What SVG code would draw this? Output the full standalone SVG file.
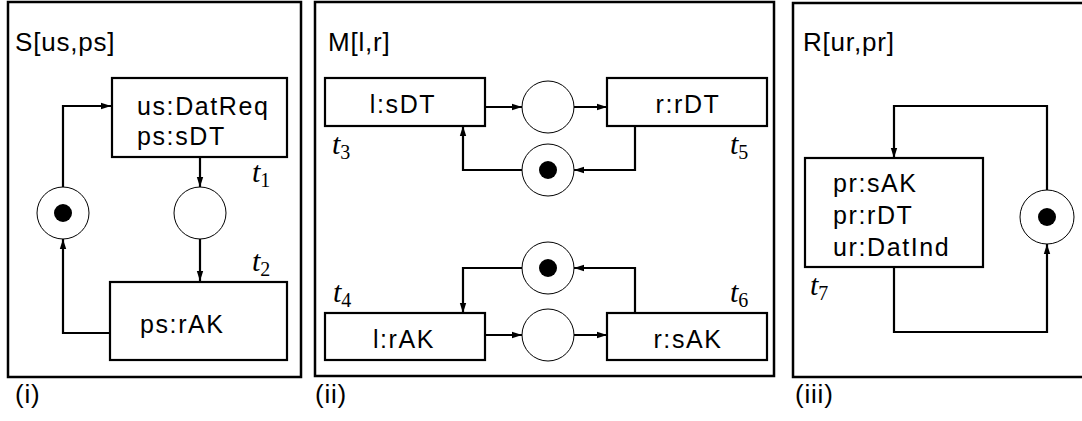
<svg xmlns="http://www.w3.org/2000/svg" width="1082" height="421" viewBox="0 0 1082 421">
<style>
.frame{fill:none;stroke:#000;stroke-width:2.5}
.box{fill:#fff;stroke:#000;stroke-width:2.2}
.place{fill:#fff;stroke:#000;stroke-width:1}
.tok{fill:#000}
.lbl{font-family:"Liberation Sans",Arial,sans-serif;font-size:25px;letter-spacing:1.6px;fill:#000}
.title{font-family:"Liberation Sans",Arial,sans-serif;font-size:26px;letter-spacing:0.8px;fill:#000}
.t{font-family:"Liberation Serif","Times New Roman",serif;font-size:30px;font-style:italic;fill:#000}
.sub{font-style:normal;font-size:20px}
.arc{fill:none;stroke:#000;stroke-width:2.2;marker-end:url(#ah)}
</style>
<defs>
<marker id="ah" markerUnits="userSpaceOnUse" markerWidth="12" markerHeight="8" refX="10" refY="4" orient="auto">
<path d="M0,0.8 L10,4 L0,7.2 Z" fill="#000"/>
</marker>
</defs>

<g id="panel-i">
<rect class="frame" x="8" y="2" width="293" height="375"/>
<text class="title" x="15" y="51">S[us,ps]</text>
<text class="title" x="15" y="403">(i)</text>
</g>
<g id="t1node">
<rect class="box" x="112" y="78" width="175" height="79"/>
<text class="lbl" x="137" y="115">us:DatReq</text>
<text class="lbl" x="137" y="145">ps:sDT</text>
<text class="t" x="252" y="182">t<tspan class="sub" dy="5">1</tspan></text>
</g>
<g id="t2node">
<rect class="box" x="110" y="282" width="177" height="78"/>
<text class="lbl" x="140" y="333">ps:rAK</text>
<text class="t" x="252" y="271">t<tspan class="sub" dy="5">2</tspan></text>
</g>
<g id="p1"><circle class="place" cx="63" cy="213" r="26"/><circle class="tok" cx="63" cy="213" r="9"/></g>
<g id="p2"><circle class="place" cx="200" cy="213" r="26"/></g>

<g id="panel-ii">
<rect class="frame" x="315" y="2" width="459" height="374"/>
<text class="title" x="328" y="51">M[l,r]</text>
<text class="title" x="315" y="403">(ii)</text>
</g>
<g id="t3node">
<rect class="box" x="325" y="78" width="160" height="48"/>
<text class="lbl" x="403" y="113" text-anchor="middle">l:sDT</text>
<text class="t" x="332" y="154">t<tspan class="sub" dy="5">3</tspan></text>
</g>
<g id="t5node">
<rect class="box" x="607" y="78" width="160" height="48"/>
<text class="lbl" x="688" y="113" text-anchor="middle">r:rDT</text>
<text class="t" x="730" y="154">t<tspan class="sub" dy="5">5</tspan></text>
</g>
<g id="t4node">
<rect class="box" x="325" y="313" width="160" height="47"/>
<text class="lbl" x="404" y="348" text-anchor="middle">l:rAK</text>
<text class="t" x="333" y="302">t<tspan class="sub" dy="5">4</tspan></text>
</g>
<g id="t6node">
<rect class="box" x="607" y="313" width="160" height="47"/>
<text class="lbl" x="688" y="348" text-anchor="middle">r:sAK</text>
<text class="t" x="730" y="302">t<tspan class="sub" dy="5">6</tspan></text>
</g>
<g id="p3"><circle class="place" cx="548" cy="107" r="26"/></g>
<g id="p4"><circle class="place" cx="548" cy="170" r="26"/><circle class="tok" cx="548" cy="170" r="9"/></g>
<g id="p5"><circle class="place" cx="548" cy="268" r="26"/><circle class="tok" cx="548" cy="268" r="9"/></g>
<g id="p6"><circle class="place" cx="548" cy="335" r="26"/></g>

<g id="panel-iii">
<rect class="frame" x="793" y="3" width="300" height="374"/>
<text class="title" x="803" y="51">R[ur,pr]</text>
<text class="title" x="795" y="403">(iii)</text>
</g>
<g id="t7node">
<rect class="box" x="805" y="158" width="178" height="109"/>
<text class="lbl" x="833" y="192">pr:sAK</text>
<text class="lbl" x="833" y="224">pr:rDT</text>
<text class="lbl" x="833" y="256">ur:DatInd</text>
<text class="t" x="810" y="295">t<tspan class="sub" dy="5">7</tspan></text>
</g>
<g id="p7"><circle class="place" cx="1047" cy="217" r="27"/><circle class="tok" cx="1047" cy="217" r="9"/></g>

<g id="connectors">
<path class="arc" d="M63,187 V106 H111"/>
<path class="arc" d="M200,157 V187"/>
<path class="arc" d="M200,239 V281"/>
<path class="arc" d="M110,333 H63 V239"/>
<path class="arc" d="M485,107 H522"/>
<path class="arc" d="M574,107 H607"/>
<path class="arc" d="M635,126 V170 H574"/>
<path class="arc" d="M522,170 H463 V126"/>
<path class="arc" d="M635,313 V268 H574"/>
<path class="arc" d="M522,268 H463 V313"/>
<path class="arc" d="M485,335 H522"/>
<path class="arc" d="M574,335 H607"/>
<path class="arc" d="M1047,190 V106 H894 V158"/>
<path class="arc" d="M894,267 V332 H1047 V244"/>
</g>
</svg>
